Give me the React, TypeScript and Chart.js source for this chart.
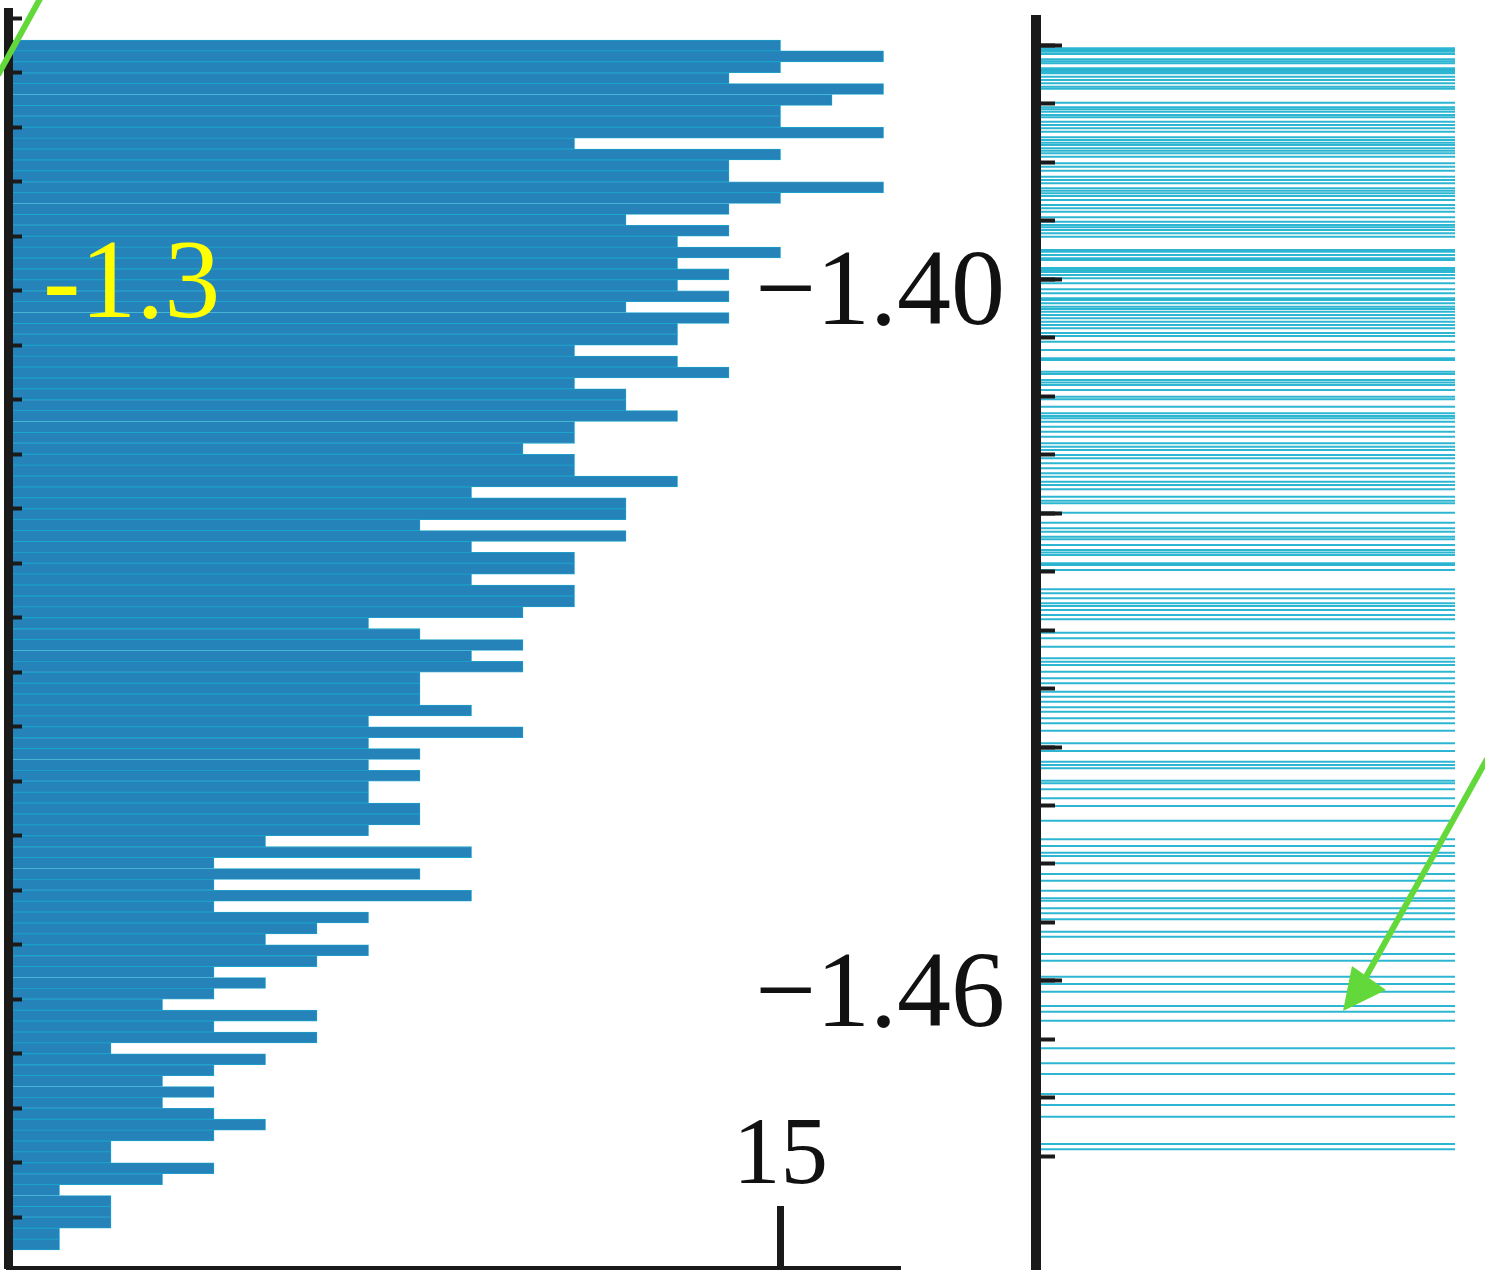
import React, { useEffect, useRef } from "react";
import { Chart, registerables } from "chart.js";
Chart.register(...registerables);

// ---- Left panel: histogram counts, one per bin (top bin first) ----
const histCounts = [
  15, 17, 15, 14, 17, 16, 15, 15, 17, 11, 15, 14, 14, 17, 15, 14, 12, 14, 13,
  15, 13, 14, 13, 14, 12, 14, 13, 13, 11, 13, 14, 11, 12, 12, 13, 11, 11,
  10, 11, 11, 13, 9, 12, 12, 8, 12, 9, 11, 11, 9, 11, 11, 10, 7, 8,
  10, 9, 10, 8, 8, 8, 9, 7, 10, 7, 8, 7, 8, 7, 7, 8, 8, 7, 5,
  9, 4, 8, 4, 9, 4, 7, 6, 5, 7, 6, 4, 5, 4, 3, 6, 4, 6,
  2, 5, 4, 3, 4, 3, 4, 5, 4, 2, 2, 4, 3, 1, 2, 2, 2, 1, 1,
];
// bin-boundary positions of the left axis tick marks
const leftTickBounds = [-2, 3, 8, 13, 18, 23, 28, 33, 38, 43, 48, 53, 58, 63, 68, 73, 78, 83, 88, 93, 98, 103, 108];
const xTickValues = [15];
const annotationLabel = "-1.3";
const annotationAt = 23;

// ---- Right panel: individual values (rug lines) ----
const rugValues = [
  -1.38028, -1.38043, -1.38057, -1.38077, -1.38122, -1.38139, -1.38156, -1.38199, -1.38214, -1.38228,
  -1.38242, -1.38271, -1.38299, -1.38327, -1.38356, -1.38374, -1.38493, -1.38532, -1.3855, -1.3857,
  -1.38598, -1.38618, -1.38656, -1.38684, -1.38712, -1.38741, -1.38789, -1.38812, -1.38835, -1.38855,
  -1.38883, -1.38903, -1.38926, -1.38955, -1.39011, -1.3904, -1.39074, -1.39126, -1.39154, -1.39182,
  -1.39225, -1.39245, -1.39268, -1.39291, -1.39325, -1.39368, -1.39396, -1.39425, -1.39473, -1.3951,
  -1.39538, -1.39558, -1.39581, -1.39609, -1.39638, -1.39752, -1.39767, -1.39795, -1.39823, -1.39838,
  -1.39906, -1.39923, -1.3994, -1.39966, -1.39994, -1.40037, -1.40088, -1.40122, -1.40165, -1.40179,
  -1.40208, -1.40237, -1.40256, -1.40279, -1.40308, -1.40336, -1.40365, -1.40393, -1.40421, -1.40462,
  -1.40487, -1.40536, -1.40607, -1.40678, -1.40692, -1.40792, -1.40812, -1.40863, -1.40885, -1.40906,
  -1.40949, -1.41006, -1.41028, -1.41091, -1.41148, -1.41171, -1.41191, -1.4122, -1.41262, -1.41305,
  -1.41348, -1.41404, -1.41433, -1.41462, -1.41504, -1.41532, -1.41575, -1.41618, -1.41661, -1.4169,
  -1.41732, -1.41761, -1.41797, -1.41861, -1.41895, -1.41917, -1.41997, -1.42083, -1.42131, -1.4216,
  -1.42203, -1.42225, -1.42274, -1.42316, -1.42338, -1.42359, -1.4243, -1.42444, -1.42487, -1.42652,
  -1.42686, -1.42729, -1.42772, -1.42795, -1.42829, -1.42872, -1.42909, -1.43023, -1.43071, -1.43143,
  -1.43242, -1.43271, -1.43299, -1.43356, -1.43413, -1.43456, -1.43527, -1.4357, -1.43613, -1.43661,
  -1.43698, -1.43755, -1.43797, -1.43861, -1.43968, -1.44034, -1.44126, -1.44154, -1.44182, -1.44288,
  -1.4431, -1.44362, -1.44438, -1.44504, -1.4463, -1.44789, -1.44846, -1.44903, -1.44932, -1.44994,
  -1.45085, -1.45143, -1.45228, -1.45293, -1.45314, -1.45379, -1.45421, -1.45473, -1.45579, -1.45621,
  -1.45769, -1.45827, -1.45963, -1.46026, -1.46091, -1.46214, -1.46262, -1.46339, -1.46575, -1.46703,
  -1.46795, -1.46966, -1.4706, -1.4716, -1.47393, -1.47439,
];
const rightMinorTicks = [
  -1.38, -1.385, -1.39, -1.395, -1.4, -1.405, -1.41, -1.415, -1.42, -1.425,
  -1.43, -1.435, -1.44, -1.445, -1.45, -1.455, -1.46, -1.465, -1.47, -1.475,
];
const rightMajorTicks = [-1.38, -1.4, -1.42, -1.44, -1.46];
const rightLabeledTicks = [-1.4, -1.46];
const rightTickLabels = ["\u22121.40", "\u22121.46"];

const AXIS = "#1a1a1a";
const SERIF = '"Liberation Serif", "Times New Roman", serif';

function LeftHistogram() {
  const ref = useRef<HTMLCanvasElement | null>(null);
  useEffect(() => {
    if (!ref.current) return;
    const labelPlugin = {
      id: "yellowLabel",
      afterDraw(chart: any) {
        const { ctx } = chart;
        const y = chart.scales.y.getPixelForValue(annotationAt);
        ctx.save();
        ctx.font = `112px ${SERIF}`;
        ctx.fillStyle = "#ffff00";
        ctx.textBaseline = "alphabetic";
        ctx.textAlign = "left";
        ctx.fillText(annotationLabel, 43, y + 26);
        ctx.restore();
      },
    };
    const chart = new Chart(ref.current, {
      type: "bar",
      data: {
        datasets: [
          {
            data: histCounts.map((c, i) => ({ x: c, y: i + 0.5 })),
            backgroundColor: "#2583ba",
            borderColor: "#1ba6cc",
            borderWidth: 0.8,
            borderSkipped: "start",
            barPercentage: 1,
            categoryPercentage: 1,
          } as any,
        ],
      },
      options: {
        indexAxis: "y",
        animation: false,
        responsive: false,
        maintainAspectRatio: false,
        layout: { padding: { top: 12, right: 10, left: 0, bottom: 0 } },
        plugins: { legend: { display: false }, tooltip: { enabled: false } },
        scales: {
          y: {
            type: "linear",
            reverse: true,
            offset: false,
            min: -2.5688,
            max: 112.65,
            position: "left",
            afterBuildTicks: (s: any) => {
              s.ticks = leftTickBounds.map((v) => ({ value: v }));
            },
            afterFit: (s: any) => {
              s.width = 8;
              s.paddingTop = 0;
              s.paddingBottom = 0;
            },
            ticks: { display: false },
            grid: { z: 1, offset: false, drawOnChartArea: false, tickLength: -14, tickWidth: 4, tickColor: AXIS },
            border: { z: 1, display: true, width: 9, color: AXIS },
          },
          x: {
            type: "linear",
            min: 0,
            max: 17.32,
            position: "bottom",
            afterBuildTicks: (s: any) => {
              s.ticks = xTickValues.map((v) => ({ value: v }));
            },
            afterFit: (s: any) => {
              s.height = 2;
              s.paddingLeft = 0;
              s.paddingRight = 0;
            },
            ticks: {
              z: 1,
              font: { family: SERIF, size: 95 },
              color: "#111",
              mirror: true,
              padding: 53,
              maxRotation: 0,
              autoSkip: false,
              callback: (v: any) => String(v),
            },
            grid: { z: 1, drawOnChartArea: false, tickLength: -62, tickWidth: 7, tickColor: AXIS },
            border: { z: 1, display: true, width: 5, color: AXIS },
          },
        },
      } as any,
      plugins: [labelPlugin],
    });
    return () => chart.destroy();
  }, []);
  return (
    <canvas
      ref={ref}
      width={910}
      height={1270}
      style={{ position: "absolute", left: 0, top: 0, width: 910, height: 1270 }}
    />
  );
}

function RightRug() {
  const ref = useRef<HTMLCanvasElement | null>(null);
  useEffect(() => {
    if (!ref.current) return;
    const yMin = -1.484701;
    const yMax = -1.377863;
    const lineData: any[] = [];
    rugValues.forEach((v) => {
      lineData.push({ x: 0, y: v }, { x: 1, y: v }, { x: 0.5, y: null });
    });
    const chart = new Chart(ref.current, {
      type: "line",
      data: {
        datasets: [
          {
            data: lineData,
            borderColor: "rgba(22,174,204,0.9)",
            borderWidth: 2,
            pointRadius: 0,
            spanGaps: false,
            tension: 0,
            fill: false,
            segment: {},
          } as any,
        ],
      },
      options: {
        animation: false,
        responsive: false,
        maintainAspectRatio: false,
        layout: { padding: { top: 20, right: 30, left: 0, bottom: 0 } },
        plugins: { legend: { display: false }, tooltip: { enabled: false } },
        scales: {
          x: { type: "linear", min: 0, max: 1, display: false },
          y: {
            type: "linear",
            min: yMin,
            max: yMax,
            position: "left",
            weight: 1,
            afterBuildTicks: (s: any) => {
              s.ticks = rightMinorTicks.map((v) => ({ value: v }));
            },
            afterFit: (s: any) => {
              s.width = 336;
              s.paddingTop = 0;
              s.paddingBottom = 0;
            },
            ticks: {
              z: 1,
              font: { family: SERIF, size: 108 },
              color: "#111",
              padding: 50,
              labelOffset: 17,
              autoSkip: false,
              callback: (v: any) => {
                const i = rightLabeledTicks.findIndex((t) => Math.abs(t - v) < 1e-9);
                return i >= 0 ? rightTickLabels[i] : "";
              },
            },
            grid: { z: 1, drawOnChartArea: false, tickLength: -19, tickWidth: 4, tickColor: AXIS },
            border: { z: 1, display: true, width: 10, color: AXIS },
          },
          yMajor: {
            type: "linear",
            min: yMin,
            max: yMax,
            position: "left",
            weight: 0,
            afterBuildTicks: (s: any) => {
              s.ticks = rightMajorTicks.map((v) => ({ value: v }));
            },
            afterFit: (s: any) => {
              s.width = 0;
              s.paddingTop = 0;
              s.paddingBottom = 0;
            },
            ticks: { display: false },
            grid: { z: 1, drawOnChartArea: false, tickLength: -26, tickWidth: 4, tickColor: AXIS },
            border: { display: false },
          },
        },
      } as any,
    });
    return () => chart.destroy();
  }, []);
  return (
    <canvas
      ref={ref}
      width={785}
      height={1270}
      style={{ position: "absolute", left: 700, top: 0, width: 785, height: 1270 }}
    />
  );
}

export default function App() {
  return (
    <div
      style={{
        position: "absolute",
        left: 0,
        top: 0,
        width: 1485,
        height: 1270,
        overflow: "hidden",
        background: "#ffffff",
      }}
    >
      <LeftHistogram />
      <RightRug />
      <svg
        width={1485}
        height={1270}
        style={{ position: "absolute", left: 0, top: 0, pointerEvents: "none" }}
      >
        <line x1={41} y1={-3} x2={-2} y2={75} stroke="#63d83a" strokeWidth={6} />
        <line x1={1492} y1={750} x2={1362} y2={984} stroke="#63d83a" strokeWidth={6} />
        <polygon points="1343,1011 1352,966 1386,990" fill="#63d83a" />
      </svg>
    </div>
  );
}
